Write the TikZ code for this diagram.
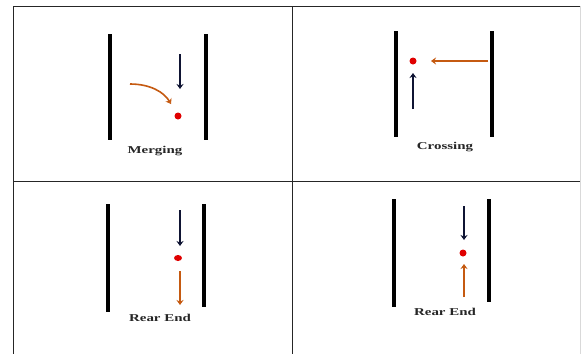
\documentclass[tikz,border=0pt]{standalone}
\usepackage{fontspec}
\setmainfont{Liberation Serif}
\usetikzlibrary{arrows.meta,shapes.geometric}
\definecolor{laneorange}{HTML}{C55A11}
\definecolor{lanenavy}{HTML}{0F1433}
\definecolor{dotred}{HTML}{E00000}
\tikzset{
  lane/.style={line width=3.6pt, black},
  grid/.style={line width=1pt, black!85},
  navyarrow/.style={line width=1.6pt, lanenavy, -{Stealth[length=5pt,width=7pt]}},
  orangearrow/.style={line width=1.6pt, laneorange, -{Stealth[length=5pt,width=7pt]}},
  car/.style={circle, fill=dotred, inner sep=0pt, minimum size=7pt},
  caption/.style={font=\fontsize{10.5}{12}\selectfont\bfseries, text=black!85, xscale=1.42, inner sep=0pt}
}
\begin{document}
\begin{tikzpicture}[x=1pt,y=-1pt]
  \useasboundingbox (0,0) rectangle (581,354);
  \fill[white] (0,0) rectangle (581,354);

  % table grid
  \draw[grid] (13,6) -- (580,6);
  \draw[grid] (13,181) -- (580,181);
  \draw[grid] (13,6) -- (13,354);
  \draw[grid] (292,6) -- (292,354);
  \draw[line width=1pt, black!15] (580,6) -- (580,354);

  % Merging
  \draw[lane] (110,34) -- (110,140);
  \draw[lane] (206,34) -- (206,140);
  \node[car] (m-dot) at (178,116) {};
  \coordinate (m-a1) at (180,54);
  \coordinate (m-a2) at (180,89);
  \draw[navyarrow] (m-a1) -- (m-a2);
  \coordinate (m-b1) at (130,84);
  \coordinate (m-b2) at (171,104);
  \draw[orangearrow] (m-b1) .. controls (150,84) and (164,92) .. (m-b2);
  \node[caption] (m-label) at (155,151) {Merging};

  % Crossing
  \draw[lane] (396,31) -- (396,137);
  \draw[lane] (492,31) -- (492,137);
  \node[car] (c-dot) at (413,61) {};
  \coordinate (c-a1) at (488,61);
  \coordinate (c-a2) at (431,61);
  \draw[orangearrow] (c-a1) -- (c-a2);
  \coordinate (c-b1) at (413,109);
  \coordinate (c-b2) at (413,73);
  \draw[navyarrow] (c-b1) -- (c-b2);
  \node[caption] (c-label) at (445,147) {Crossing};

  % Rear End (left)
  \draw[lane] (108,204) -- (108,312);
  \draw[lane] (204,204) -- (204,307);
  \node[car, ellipse, minimum width=8pt, minimum height=6pt] (r1-dot) at (178,258) {};
  \coordinate (r1-a1) at (180,210);
  \coordinate (r1-a2) at (180,246);
  \draw[navyarrow] (r1-a1) -- (r1-a2);
  \coordinate (r1-b1) at (180,271);
  \coordinate (r1-b2) at (180,305);
  \draw[orangearrow] (r1-b1) -- (r1-b2);
  \node[caption] (r1-label) at (160,318) {Rear End};

  % Rear End (right)
  \draw[lane] (394,199) -- (394,307);
  \draw[lane] (489,199) -- (489,302);
  \node[car] (r2-dot) at (463,253) {};
  \coordinate (r2-a1) at (464,206);
  \coordinate (r2-a2) at (464,240);
  \draw[navyarrow] (r2-a1) -- (r2-a2);
  \coordinate (r2-b1) at (464,297);
  \coordinate (r2-b2) at (464,264);
  \draw[orangearrow] (r2-b1) -- (r2-b2);
  \node[caption] (r2-label) at (445,312) {Rear End};
\end{tikzpicture}
\end{document}
